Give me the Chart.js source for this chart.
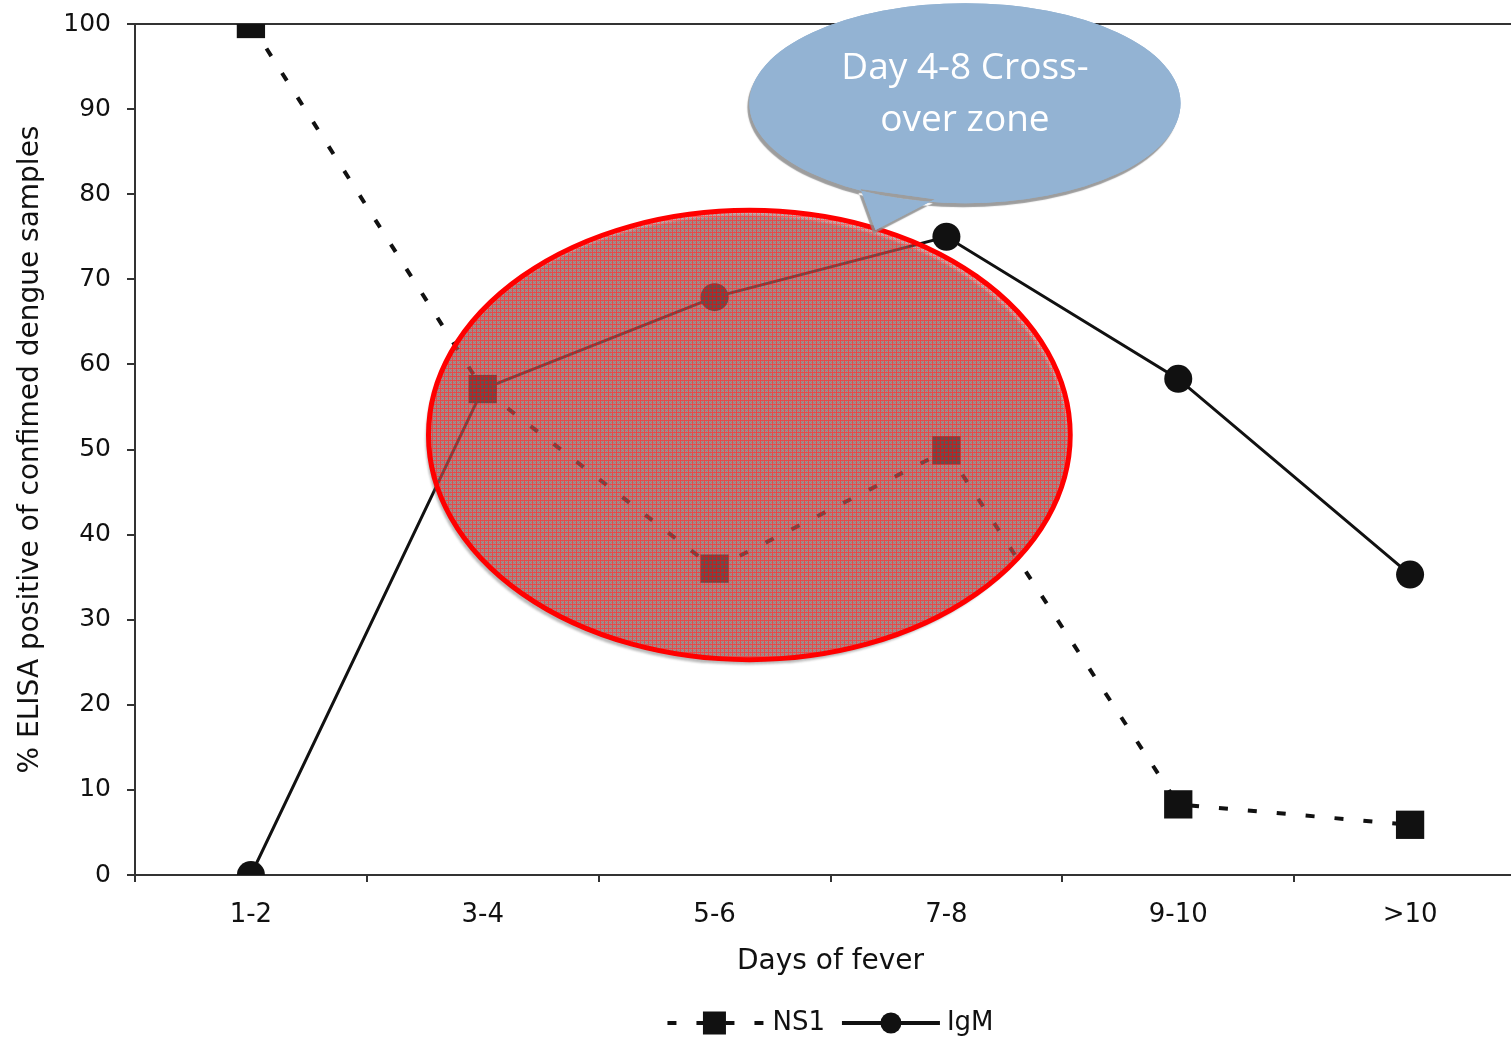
<!DOCTYPE html>
<html>
<head>
<meta charset="utf-8">
<script src="https://cdn.jsdelivr.net/npm/chart.js@4.4.0/dist/chart.umd.min.js"></script>
<style>
    html, body { margin: 0; padding: 0; background: #fff; overflow: hidden; }
    #wrap { position: relative; width: 1546px; height: 1038px; }
</style>
</head>
<body>
<div id="wrap"><canvas id="chart" width="1546" height="1038"></canvas></div>
<script>
// Data
const DAYS = ['1-2', '3-4', '5-6', '7-8', '9-10', '>10'];
const NS1  = [100, 57.1, 36.0, 49.9, 8.3, 5.9];
const IGM  = [0, 57.1, 67.9, 75.0, 58.3, 35.3];
const Y_MIN = 0, Y_MAX = 100, Y_STEP = 10;
const CALLOUT_TEXT = ['Day 4-8 Cross-', 'over zone'];

// Annotation shapes, in data units (category index / percent)
const ZONE = { cx: 2.15, cy: 51.7, rx: 1.384, ry: 26.4 };
const BUBBLE = { cx: 3.08, cy: 90.7, rx: 0.93, ry: 11.75,
                 tail: [[2.63, 80.6], [2.694, 75.8], [2.95, 79.4]] };

const FONT = '"DejaVu Sans", Verdana, sans-serif';
const INK = '#111';

// crosshatch-ish fill like the original slide shape
function hatchPattern(ctx) {
    const c = document.createElement('canvas');
    c.width = 4; c.height = 4;
    const p = c.getContext('2d');
    for (let i = 0; i < 4; i++) {
        for (let j = 0; j < 4; j++) {
            if (i === 0 || j === 0) p.fillStyle = 'rgba(250,20,20,0.68)';
            else p.fillStyle = (i + j) % 2 ? 'rgba(105,105,105,0.58)' : 'rgba(180,80,80,0.5)';
            p.fillRect(i, j, 1, 1);
        }
    }
    return ctx.createPattern(c, 'repeat');
}

const overlay = {
    id: 'overlay',
    beforeDatasetsDraw(chart) {
        const { ctx, chartArea: a } = chart;
        ctx.save();
        ctx.strokeStyle = '#333';
        ctx.lineWidth = 2;
        ctx.beginPath();
        ctx.moveTo(a.left, a.top);
        ctx.lineTo(a.right, a.top);
        ctx.stroke();
        ctx.restore();
    },
    afterDatasetsDraw(chart) {
        const { ctx, scales: { x, y } } = chart;
        const px = v => x.getPixelForValue(v);
        const py = v => y.getPixelForValue(v);

        // ── red cross-over zone ──
        const zx = px(ZONE.cx), zy = py(ZONE.cy);
        const zrx = px(ZONE.cx + ZONE.rx) - zx, zry = zy - py(ZONE.cy + ZONE.ry);
        ctx.save();
        ctx.shadowColor = 'rgba(110,110,110,0.8)';
        ctx.shadowOffsetX = -3;
        ctx.shadowOffsetY = 5;
        ctx.shadowBlur = 2;
        ctx.beginPath();
        ctx.ellipse(zx, zy, zrx, zry, 0, 0, Math.PI * 2);
        ctx.fillStyle = hatchPattern(ctx);
        ctx.fill();
        ctx.shadowColor = 'transparent';
        ctx.lineWidth = 5;
        ctx.strokeStyle = '#f00';
        ctx.stroke();
        ctx.restore();

        // ── speech bubble ──
        const bx = px(BUBBLE.cx), by = py(BUBBLE.cy);
        const brx = px(BUBBLE.cx + BUBBLE.rx) - bx, bry = by - py(BUBBLE.cy + BUBBLE.ry);
        const shape = () => {
            ctx.beginPath();
            ctx.ellipse(bx, by, brx, bry, 0, 0, Math.PI * 2);
            const t = BUBBLE.tail;
            ctx.moveTo(px(t[0][0]), py(t[0][1]));
            ctx.lineTo(px(t[1][0]), py(t[1][1]));
            ctx.lineTo(px(t[2][0]), py(t[2][1]));
            ctx.closePath();
        };
        ctx.save();
        ctx.fillStyle = '#93b3d3';
        ctx.shadowColor = 'rgba(140,140,140,0.85)';
        ctx.shadowOffsetX = -2;
        ctx.shadowOffsetY = 4;
        ctx.shadowBlur = 1;
        shape();
        ctx.fill('nonzero');
        ctx.shadowColor = 'transparent';
        shape();
        ctx.fill('nonzero');
        ctx.fillStyle = '#fff';
        ctx.font = '37px "Open Sans", "Noto Sans", sans-serif';
        ctx.textAlign = 'center';
        ctx.textBaseline = 'middle';
        CALLOUT_TEXT.forEach((line, i) => ctx.fillText(line, bx, by - 35 + i * 52));
        ctx.restore();
    },
    afterDraw(chart) {
        // legend: dashed square line NS1, solid circle line IgM
        const { ctx, chartArea: a } = chart;
        const ds = chart.data.datasets;
        const sample = 98, gapText = 7, gapItem = 17, ly = 1023;
        ctx.save();
        ctx.font = '26px ' + FONT;
        ctx.textBaseline = 'middle';
        const widths = ds.map(d => sample + gapText + ctx.measureText(d.label).width);
        const total = widths.reduce((s, w) => s + w, 0) + gapItem * (ds.length - 1);
        let lx = (a.left + a.right) / 2 - total / 2;
        ds.forEach((d, i) => {
            ctx.strokeStyle = INK;
            ctx.fillStyle = INK;
            ctx.lineWidth = 4;
            ctx.setLineDash(d.borderDash || []);
            ctx.beginPath();
            ctx.moveTo(lx, ly);
            ctx.lineTo(lx + sample, ly);
            ctx.stroke();
            ctx.setLineDash([]);
            const mx = lx + sample / 2 - (d.pointStyle === 'rect' ? 2 : 0);
            if (d.pointStyle === 'rect') {
                ctx.fillRect(mx - 11.5, ly - 11.5, 23, 23);
            } else {
                ctx.beginPath();
                ctx.arc(mx, ly, 10.5, 0, Math.PI * 2);
                ctx.fill();
            }
            ctx.fillText(d.label, lx + sample + gapText, ly);
            lx += widths[i] + gapItem;
        });
        ctx.restore();
    }
};

new Chart(document.getElementById('chart'), {
    type: 'line',
    data: {
        labels: DAYS,
        datasets: [
            {
                label: 'NS1',
                data: NS1,
                borderColor: INK,
                backgroundColor: INK,
                borderWidth: 4,
                borderDash: [9, 20],
                pointStyle: 'rect',
                pointRadius: 20,
                pointBorderWidth: 0,
                tension: 0,
            },
            {
                label: 'IgM',
                data: IGM,
                borderColor: INK,
                backgroundColor: INK,
                borderWidth: 3,
                pointStyle: 'circle',
                pointRadius: 14,
                pointBorderWidth: 0,
                tension: 0,
            },
        ],
    },
    options: {
        responsive: false,
        devicePixelRatio: 1,
        animation: false,
        layout: { padding: { top: 24, right: 4, bottom: 59, left: 0 } },
        plugins: { legend: { display: false }, tooltip: { enabled: false } },
        scales: {
            x: {
                offset: true,
                afterFit(s) { s.height = 104; },
                grid: { offset: true, drawOnChartArea: false, drawTicks: true, tickLength: 7, color: '#333', lineWidth: 2 },
                border: { color: '#333', width: 2 },
                ticks: { color: INK, font: { family: FONT, size: 26 }, padding: 18 },
                title: { display: true, text: 'Days of fever', color: INK, font: { family: FONT, size: 28 }, padding: { top: 4, bottom: 0 } },
            },
            y: {
                min: Y_MIN,
                max: Y_MAX,
                afterFit(s) { s.width = 135; s.paddingTop = 0; s.paddingBottom = 0; },
                grid: { drawOnChartArea: false, drawTicks: true, tickLength: 8, color: '#333', lineWidth: 2 },
                border: { color: '#333', width: 2 },
                ticks: { stepSize: Y_STEP, color: INK, font: { family: FONT, size: 25 }, padding: 16 },
                title: { display: true, text: '% ELISA positive of confimed dengue samples', color: INK, font: { family: FONT, size: 28 }, padding: { top: 14, bottom: 0 } },
            },
        },
    },
    plugins: [overlay],
});
</script>
</body>
</html>
